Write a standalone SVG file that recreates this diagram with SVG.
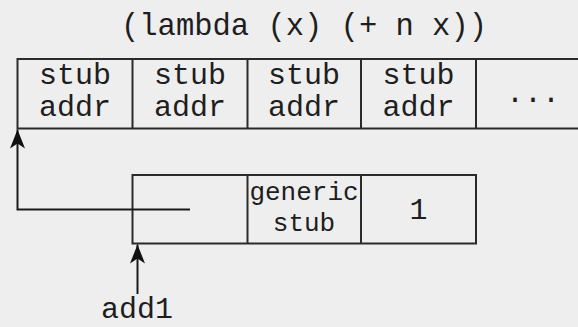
<svg xmlns="http://www.w3.org/2000/svg" width="578" height="327" viewBox="0 0 578 327">
  <style>
    .box { fill: none; stroke: #2a2a2a; stroke-width: 2; }
    .wire { fill: none; stroke: #1a1a1a; stroke-width: 2; }
    .t { font-family: "Liberation Mono", "DejaVu Sans Mono", monospace; fill: #1e1e1e; text-anchor: middle; }
    .big { font-size: 30px; }
    .small { font-size: 26px; }
  </style>
  <defs>
    <!-- concave arrowhead, tip at the end of the path -->
    <marker id="arrow" markerUnits="userSpaceOnUse" markerWidth="22" markerHeight="20" viewBox="-20 -10 22 20" refX="0" refY="0" orient="auto">
      <path d="M0,0 L-19,-7.5 L-14,0 L-19,7.5 Z" fill="#111"/>
    </marker>
  </defs>
  <rect width="578" height="327" fill="#eeeeee"/>

  <g id="title">
    <text class="t big" x="304" y="35" style="font-size:30.5px">(lambda (x) (+ n x))</text>
  </g>

  <g id="stub-table">
    <rect class="box" x="17.5" y="59" width="580" height="69.5"/>
    <line class="box" x1="132.5" y1="59" x2="132.5" y2="128.5"/>
    <line class="box" x1="247.5" y1="59" x2="247.5" y2="128.5"/>
    <line class="box" x1="361" y1="59" x2="361" y2="128.5"/>
    <line class="box" x1="476" y1="59" x2="476" y2="128.5"/>
    <text class="t big" x="75" y="84">stub</text>
    <text class="t big" x="75" y="116">addr</text>
    <text class="t big" x="190" y="84">stub</text>
    <text class="t big" x="190" y="116">addr</text>
    <text class="t big" x="304" y="84">stub</text>
    <text class="t big" x="304" y="116">addr</text>
    <text class="t big" x="418.5" y="84">stub</text>
    <text class="t big" x="418.5" y="116">addr</text>
    <text class="t big" x="533" y="102">...</text>
  </g>

  <g id="closure">
    <rect class="box" x="132.5" y="175" width="343.5" height="68.5"/>
    <line class="box" x1="247.5" y1="175" x2="247.5" y2="243.5"/>
    <line class="box" x1="361" y1="175" x2="361" y2="243.5"/>
    <text class="t small" x="304" y="200">generic</text>
    <text class="t small" x="304" y="231">stub</text>
    <text class="t big" x="418.5" y="219">1</text>
  </g>

  <g id="add1">
    <text class="t big" x="137" y="318">add1</text>
  </g>

  <g id="connectors">
    <path class="wire" d="M190,209.5 H17.5 V129.5" marker-end="url(#arrow)"/>
    <path class="wire" d="M137.5,294 V244.5" marker-end="url(#arrow)"/>
  </g>
</svg>
